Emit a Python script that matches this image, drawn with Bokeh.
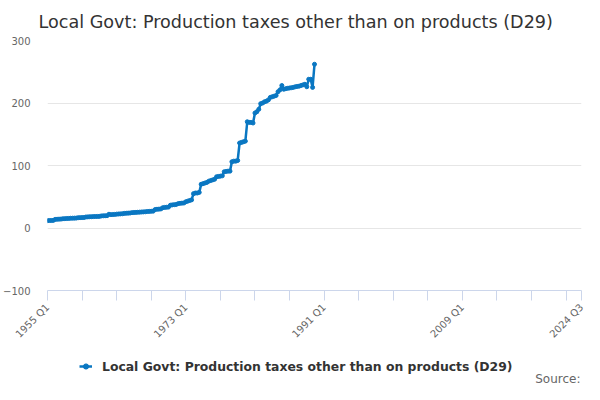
from math import pi
from bokeh.plotting import figure
from bokeh.layouts import column
from bokeh.models import (Range1d, FixedTicker, Label, Legend, LegendItem)
from bokeh.embed import file_html
from bokeh.resources import INLINE

# ---- data ----
title_text = "Local Govt: Production taxes other than on products (D29)"
series_name = "Local Govt: Production taxes other than on products (D29)"
source_text = "Source:"
first_period = "1955 Q1"
last_period = "2024 Q3"
tick_labels = ["1955 Q1", "1973 Q1", "1991 Q1", "2009 Q1", "2024 Q3"]
y_ticks = [-100, 0, 100, 200, 300]

values = [
    11.8, 12.0, 12.0, 12.2,      # 1955
    13.8, 14.0, 14.2, 14.3,      # 1956
    14.8, 15.0, 15.2, 15.3,      # 1957
    15.6, 15.7, 15.8, 15.9,      # 1958
    16.5, 16.6, 16.7, 16.8,      # 1959
    17.6, 17.8, 18.0, 18.1,      # 1960
    18.3, 18.4, 18.5, 18.6,      # 1961
    19.3, 19.5, 19.6, 19.7,      # 1962
    22.0, 21.4, 21.6, 21.8,      # 1963
    22.2, 22.4, 22.6, 22.8,      # 1964
    23.4, 23.6, 23.8, 24.0,      # 1965
    24.6, 24.8, 25.0, 25.2,      # 1966
    25.4, 25.6, 25.8, 26.0,      # 1967
    26.4, 26.6, 26.8, 27.0,      # 1968
    29.5, 30.0, 30.2, 30.5,      # 1969
    32.5, 33.0, 33.2, 33.5,      # 1970
    36.5, 37.0, 37.3, 37.6,      # 1971
    39.0, 39.5, 39.8, 40.0,      # 1972
    42.0, 43.0, 44.0, 45.0,      # 1973
    55.0, 56.0, 56.0, 57.0,      # 1974
    70.0, 71.0, 72.0, 73.0,      # 1975
    75.0, 76.0, 77.0, 78.0,      # 1976
    82.0, 82.5, 83.0, 83.5,      # 1977
    90.0, 90.5, 91.0, 91.0,      # 1978
    106.0, 107.0, 107.0, 108.0,  # 1979
    136.0, 137.0, 138.0, 139.0,  # 1980
    170.0, 169.0, 169.0, 168.0,  # 1981
    184.0, 186.0, 190.0, 199.0,  # 1982
    200.0, 202.0, 203.0, 205.0,  # 1983
    209.0, 210.0, 211.0, 212.0,  # 1984
    218.0, 221.0, 228.0, 222.0,  # 1985
    223.0, 223.5, 224.0, 224.5,  # 1986
    225.0, 226.0, 226.5, 227.0,  # 1987
    228.0, 229.0, 230.0, 226.0,  # 1988
    238.0, 238.0, 225.0, 262.0,  # 1989
]


def qidx(label):
    y, q = label.split(" Q")
    y0, q0 = first_period.split(" Q")
    return (int(y) - int(y0)) * 4 + (int(q) - int(q0))


xs = list(range(len(values)))
n_last = qidx(last_period)

FONT = "DejaVu Sans"
LINE_COLOR = "#0a77c2"

# ---------------- main chart ----------------
p = figure(frame_width=534, frame_height=250, output_backend="svg",
           toolbar_location=None,
           x_range=Range1d(0, n_last), y_range=Range1d(-100, 300),
           min_border_left=43, min_border_right=7, min_border_top=39,
           min_border_bottom=60)
p.outline_line_color = None
p.background_fill_color = "white"
p.border_fill_color = "white"

p.title.text = title_text
p.title.align = "left"
p.title.offset = -9
p.title.text_font = FONT
p.title.text_font_size = "17.6px"
p.title.text_font_style = "normal"
p.title.text_color = "#333333"
p.title.standoff = 18

line = p.line(xs, values, line_color=LINE_COLOR, line_width=2.5)
pts = p.scatter(xs, values, size=4, color=LINE_COLOR)

# x axis
major = list(range(0, n_last, 18)) + [n_last]
p.xaxis.ticker = FixedTicker(ticks=major, minor_ticks=[])
overrides = {t: "" for t in major}
for lab in tick_labels:
    overrides[qidx(lab)] = lab
p.xaxis.major_label_overrides = overrides
p.xaxis.major_label_orientation = pi / 4
p.xaxis.axis_line_color = "#ccd6eb"
p.xaxis.major_tick_line_color = "#ccd6eb"
p.xaxis.major_tick_out = 10
p.xaxis.major_tick_in = 0
p.xaxis.minor_tick_line_color = None
p.xaxis.major_label_text_font = FONT
p.xaxis.major_label_text_font_size = "10px"
p.xaxis.major_label_text_color = "#666666"
p.xaxis.major_label_standoff = 5
p.xgrid.visible = False

# y axis
p.yaxis.ticker = FixedTicker(ticks=y_ticks, minor_ticks=[])
p.yaxis.axis_line_color = None
p.yaxis.major_tick_line_color = None
p.yaxis.minor_tick_line_color = None
p.yaxis.major_tick_out = 0
p.yaxis.major_tick_in = 0
p.yaxis.major_label_standoff = 17
p.yaxis.major_label_text_font = FONT
p.yaxis.major_label_text_font_size = "10px"
p.yaxis.major_label_text_color = "#666666"
p.ygrid.ticker = FixedTicker(ticks=y_ticks)
p.ygrid.grid_line_color = "#e6e6e6"
p.ygrid.grid_line_width = 1

# ---------------- legend / source strip ----------------
q = figure(frame_width=534, frame_height=35, output_backend="svg",
           toolbar_location=None,
           x_axis_location=None, y_axis_location=None,
           min_border=0, min_border_left=43, min_border_right=7,
           min_border_top=0, min_border_bottom=0)
q.outline_line_color = None
q.xgrid.visible = False
q.ygrid.visible = False
q.border_fill_color = "white"
q.background_fill_color = "white"

l2 = q.line(xs, values, line_color=LINE_COLOR, line_width=2.5, visible=False)
s2 = q.scatter(xs, values, size=4, color=LINE_COLOR, visible=False)

legend = Legend(items=[LegendItem(label=series_name, renderers=[l2, s2])],
                location=(32, 9), orientation="horizontal",
                label_text_font=FONT, label_text_font_size="12.4px",
                label_text_font_style="bold", label_text_color="#333333",
                border_line_color=None, background_fill_alpha=0,
                glyph_width=13, glyph_height=20, label_height=20,
                label_standoff=10, padding=0, margin=0, spacing=0)
q.add_layout(legend, "center")

q.add_layout(Label(x=533, y=7, x_units="screen", y_units="screen",
                   text=source_text, text_align="right",
                   text_baseline="alphabetic", text_font=FONT,
                   text_font_size="12px", text_color="#666666"))

layout = column(p, q, spacing=0)
open("out.html", "w").write(file_html(layout, INLINE))
